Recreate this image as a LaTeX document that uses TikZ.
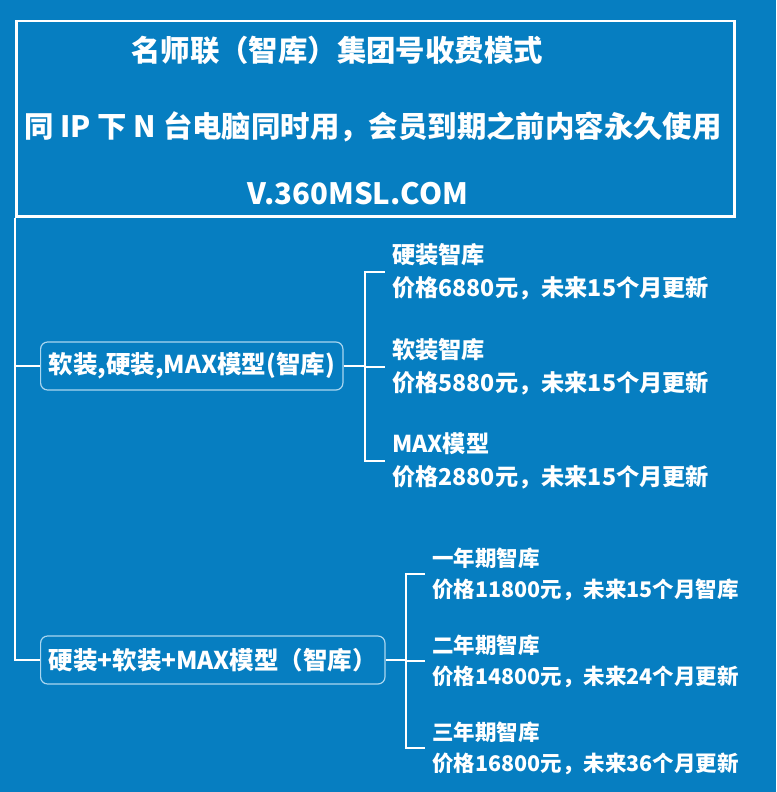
\documentclass[tikz,border=0pt]{standalone}
\usepackage{fontspec}
\setmainfont{Noto Sans CJK SC}
\usetikzlibrary{positioning}
\definecolor{bgblue}{RGB}{6,126,193}
\definecolor{rimblue}{RGB}{170,214,240}

\begin{document}
\begin{tikzpicture}[
          x=1pt, y=-1pt,
          every node/.style={text=white, font=\bfseries},
          headtext/.style={font=\bfseries\fontsize{29.4}{29.4}\selectfont},
          pack/.style={draw=rimblue, line width=1.2pt, rounded corners=7pt,
            minimum height=48pt, inner xsep=8pt, anchor=west,
            font=\bfseries\fontsize{24.5}{28}\selectfont},
          offer/.style={anchor=west, align=left, inner xsep=7pt, inner ysep=0pt,
            font=\bfseries\fontsize{23.2}{33}\selectfont},
          smalloffer/.style={offer, font=\bfseries\fontsize{21.5}{31}\selectfont},
          branch/.style={draw=white, line width=2pt}
        ]
        \fill[bgblue] (0,0) rectangle (776,792);
        \useasboundingbox (0,0) rectangle (776,792);

        % header box
        \node[draw=white, line width=2.5pt, minimum width=718pt, minimum height=195pt,
          anchor=north west] (header) at (15,20) {};
        \node[headtext] (title) at (337,50) {名师联（智库）集团号收费模式};
        \node[headtext] (rule) at (373,127) {同 IP 下 N 台电脑同时用，会员到期之前内容永久使用};
        \node[headtext] (site) at (358,194) {V.360MSL.COM};

        % packages
        \node[pack] (soft) at (40,366) {软装,硬装,MAX模型(智库)};
        \node[pack] (full) at (40,660) {硬装+软装+MAX模型（智库）};
        \draw[branch] (header.south west) |- (soft.west);
        \draw[branch] (header.south west) |- (full.west);

        % first group
        \coordinate (fork1) at (365,366);
        \node[offer] (hard) at (385,272) {硬装智库\\价格6880元，未来15个月更新};
        \node[offer] (softlib) at (385,367) {软装智库\\价格5880元，未来15个月更新};
        \node[offer] (maxlib) at (385,461) {MAX模型\\价格2880元，未来15个月更新};
        \draw[branch] (soft.east) -- (fork1);
        \draw[branch] (fork1) |- (hard.west);
        \draw[branch] (fork1) |- (softlib.west);
        \draw[branch] (fork1) |- (maxlib.west);

        % second group
        \coordinate (fork2) at (406,660);
        \node[smalloffer] (year1) at (425,574) {一年期智库\\价格11800元，未来15个月智库};
        \node[smalloffer] (year2) at (425,661) {二年期智库\\价格14800元，未来24个月更新};
        \node[smalloffer] (year3) at (425,748) {三年期智库\\价格16800元，未来36个月更新};
        \draw[branch] (full.east) -- (fork2);
        \draw[branch] (fork2) |- (year1.west);
        \draw[branch] (fork2) |- (year2.west);
        \draw[branch] (fork2) |- (year3.west);

        \end{tikzpicture}
\end{document}
